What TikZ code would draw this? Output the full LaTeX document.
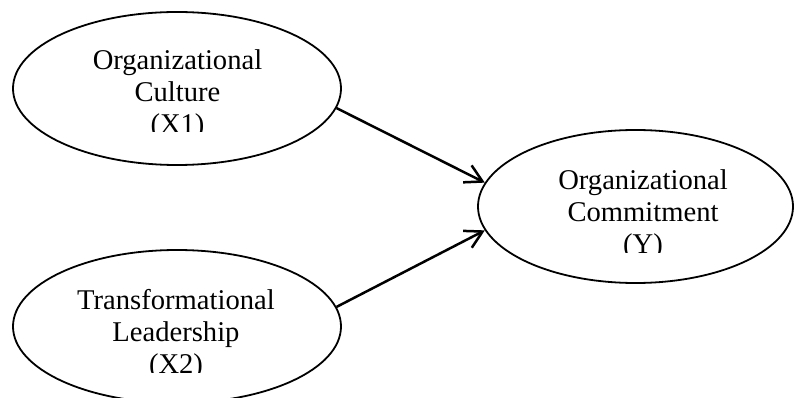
\documentclass[tikz,border=0pt]{standalone}
\usepackage{fontspec}
\setmainfont{Liberation Serif}
\usetikzlibrary{shapes.geometric,arrows.meta}
\begin{document}
\begin{tikzpicture}[x=1pt,y=-1pt,
  latent/.style={draw=black, ellipse, line width=1.8pt, inner sep=0pt},
  lbl/.style={anchor=base, inner sep=0pt, font=\fontsize{28.6}{32}\selectfont},
  relpath/.style={line width=2.5pt, -{Straight Barb[length=17pt,width=19pt,line width=2.5pt]}}]
\useasboundingbox (0,0) rectangle (795,398);
\clip (0,0) rectangle (795,398);
% ellipses
\node[latent, minimum width=328pt, minimum height=153pt] (x1) at (177,88.5) {};
\node[latent, minimum width=328pt, minimum height=153pt] (x2) at (177,326.5) {};
\node[latent, minimum width=315pt, minimum height=153pt] (y) at (635.5,206.5) {};
% texts
\node[lbl] (x1a) at (177.5,69.5) {Organizational};
\node[lbl] (x1b) at (177.5,101.5) {Culture};
\begin{scope}
  \clip (0,0) rectangle (795,132);
  \node[lbl] (x1c) at (177.5,133.5) {(X1)};
\end{scope}
\node[lbl] (x2a) at (176,309) {Transformational};
\node[lbl] (x2b) at (176,341) {Leadership};
\begin{scope}
  \clip (0,0) rectangle (795,372);
  \node[lbl] (x2c) at (176,373) {(X2)};
\end{scope}
\node[lbl] (ya) at (643,190) {Organizational};
\node[lbl] (yb) at (643,222) {Commitment};
\begin{scope}
  \clip (0,0) rectangle (795,252);
  \node[lbl] (yc) at (643,254) {(Y)};
\end{scope}
% connectors
\draw[relpath] (x1.-7) -- (y.171);
\draw[relpath] (x2.7) -- (y.189);
\end{tikzpicture}
\end{document}
